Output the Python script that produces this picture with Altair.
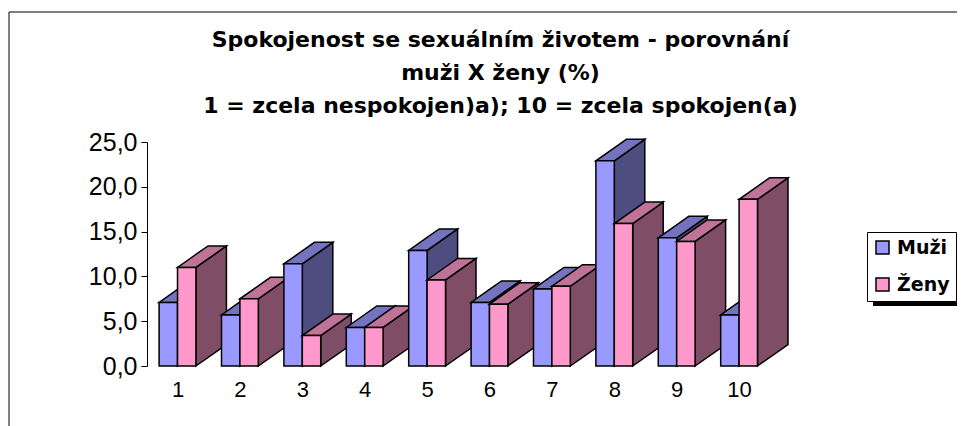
import altair as alt
import pandas as pd

categories = [1, 2, 3, 4, 5, 6, 7, 8, 9, 10]
muzi = [7.1, 5.7, 11.4, 4.3, 12.9, 7.1, 8.6, 22.9, 14.3, 5.7]
zeny = [11.0, 7.5, 3.4, 4.3, 9.6, 6.9, 8.9, 15.9, 13.9, 18.6]
y_ticks = [0, 5, 10, 15, 20, 25]
title_lines = [
    "Spokojenost se sexuálním životem - porovnání",
    "muži X ženy (%)",
    "1 = zcela nespokojen)a); 10 = zcela spokojen(a)",
]
face_names = ["Muži", "Ženy", "Muži top", "Ženy top", "Muži side", "Ženy side"]
face_colors = ["#9999FF", "#FF99CC", "#7373BF", "#BF7399", "#4D4D80", "#804D66"]

BAR = 0.295     # bar width, in category units
DX = 0.489      # depth to the right, in category units
DY = 2.4        # depth upwards, in value units


def faces(cat, value, name, start):
    """Side, top and front of one 3D bar, painted in this order."""
    x0, x1 = cat + start, cat + start + BAR
    rows = []
    poly = f"{cat}-{name}"
    for x, lo, hi in [(x1, 0, value), (x1 + DX, DY, value + DY)]:
        rows.append((f"{poly}-a", f"{name} side", x, lo, hi))
    slope = DY / DX
    for x, lo, hi in [
        (x0, value, value),
        (x1, value, value + slope * BAR),
        (x0 + DX, value + slope * (DX - BAR), value + DY),
        (x1 + DX, value + DY, value + DY),
    ]:
        rows.append((f"{poly}-b", f"{name} top", x, lo, hi))
    for x in (x0, x1):
        rows.append((f"{poly}-c", name, x, 0, value))
    return rows


rows = []
for c, m, z in zip(categories, muzi, zeny):
    rows += faces(c, m, "Muži", -BAR)
    rows += faces(c, z, "Ženy", 0)
df = pd.DataFrame(rows, columns=["poly", "face", "x", "lo", "hi"])

FONT = "Liberation Sans"
WIDE = "DejaVu Sans"

bars = (
    alt.Chart(df)
    .mark_area(stroke="black", strokeWidth=1.5, opacity=1, clip=False, interpolate="linear")
    .encode(
        x=alt.X(
            "x:Q",
            scale=alt.Scale(domain=[0.511, 10.816], nice=False, zero=False),
            axis=alt.Axis(
                values=categories, format="d", title=None, grid=False, domain=False,
                ticks=False, labelFontSize=22, labelColor="black", labelFont=FONT,
                labelPadding=13, labelFlush=False, labelOverlap=False,
            ),
        ),
        y=alt.Y(
            "lo:Q",
            stack=None,
            scale=alt.Scale(domain=[0, 25], nice=False),
            axis=alt.Axis(
                values=y_ticks, title=None, grid=False, domain=True, domainColor="black",
                domainWidth=1, ticks=True, tickColor="black", tickSize=6, tickWidth=1,
                labelFontSize=25, labelColor="black", labelFont=FONT, labelPadding=4,
                labelExpr="replace(format(datum.value, '.1f'), '.', ',')",
            ),
        ),
        y2="hi:Q",
        detail="poly:N",
        color=alt.Color(
            "face:N",
            scale=alt.Scale(domain=face_names, range=face_colors),
            legend=alt.Legend(
                values=["Muži", "Ženy"], title=None, orient="none", legendX=720, legendY=90,
                fillColor="white", strokeColor="black", padding=6, symbolType="square",
                symbolSize=169, symbolStrokeColor="black", symbolStrokeWidth=1.5,
                symbolOpacity=1, labelFont=WIDE, labelFontWeight="bold", labelFontSize=19,
                labelColor="black", rowPadding=17, labelOffset=5,
            ),
        ),
    )
)

frame_top = alt.Chart().mark_rule(color="black", strokeWidth=1).encode(
    x=alt.value(-138), x2=alt.value(810), y=alt.value(-130)
)
frame_left = alt.Chart().mark_rule(color="black", strokeWidth=1).encode(
    x=alt.value(-138), y=alt.value(-130), y2=alt.value(284)
)
shadow = alt.Chart().mark_rule(color="black", strokeWidth=4).encode(
    x=alt.value(726), x2=alt.value(810), y=alt.value(162)
)

chart = (
    alt.layer(frame_top, frame_left, shadow, bars)
    .properties(
        width=643,
        height=224,
        padding={"left": 139, "top": 134, "right": 167, "bottom": 60},
        autosize=alt.AutoSizeParams(type="none"),
        background="white",
        title=alt.TitleParams(
            text=title_lines, font=WIDE, fontSize=22, fontWeight="bold", color="black",
            anchor="middle", dx=32, lineHeight=33, offset=-106, baseline="top",
        ),
    )
    .configure_view(stroke=None)
)

chart.save("out.html", embed_options={"renderer": "svg", "actions": False})
